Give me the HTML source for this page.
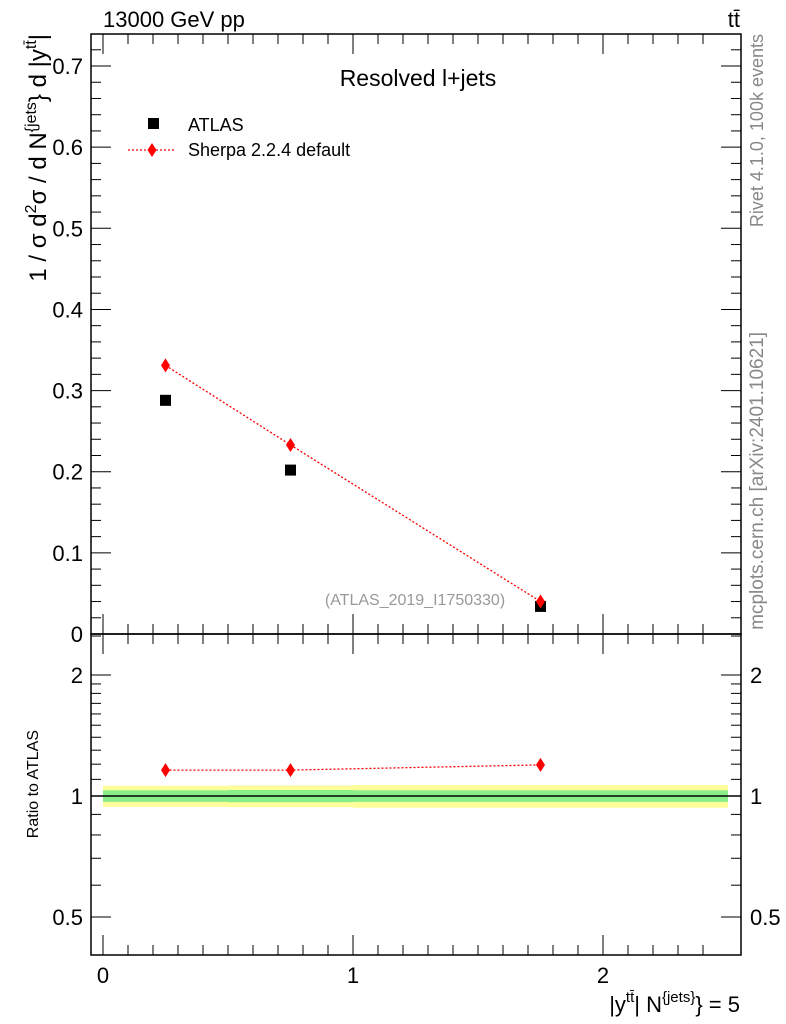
<!DOCTYPE html>
<html><head><meta charset="utf-8"><style>
body{margin:0;background:#fff;}
svg{display:block;font-family:"Liberation Sans",sans-serif;}
</style></head><body>
<svg id="c" width="786" height="1024" xmlns="http://www.w3.org/2000/svg">
<g id="g"></g>
</svg>
<script>
const xCenters=[0.25,0.75,1.75];
const binLo=[0,0.5,1];
const binHi=[0.5,1,2.5];
const atlasVals=[0.288,0.202,0.034];
const sherpaVals=[0.331,0.233,0.040];
const ratioVals=[1.16,1.16,1.195];
const greenErr=[0.033,0.035,0.033];
const yellowErr=[0.06,0.062,0.065];
const mainTicks=[0,0.1,0.2,0.3,0.4,0.5,0.6,0.7];
const mainTickLabels=["0","0.1","0.2","0.3","0.4","0.5","0.6","0.7"];
const ratioTicks=[0.5,1,2];
const ratioTickLabels=["0.5","1","2"];
const xTicks=[0,1,2];
const xTickLabels=["0","1","2"];

const NS="http://www.w3.org/2000/svg";
const g=document.getElementById('g');
const L=91,R=741,T=34,M=634,B=955;
const X=v=>103+v*250;
const Y=v=>634-v*811.4;
const YR=v=>796-Math.log10(v)*402;
function el(t,a,p){const e=document.createElementNS(NS,t);for(const k in a)e.setAttribute(k,a[k]);(p||g).appendChild(e);return e;}
function txt(x,y,s,size,anchor,fill){const e=el('text',{x:x,y:y,'font-size':size,'text-anchor':anchor||'start',fill:fill||'#000'});e.textContent=s;return e;}

// bands
for(let i=0;i<binLo.length;i++){
  const y=el('rect',{x:X(binLo[i]),y:YR(1+yellowErr[i]),width:X(binHi[i])-X(binLo[i]),height:YR(1-yellowErr[i])-YR(1+yellowErr[i]),fill:'#ffff99'});
  
  
  const gr=el('rect',{x:X(binLo[i]),y:YR(1+greenErr[i]),width:X(binHi[i])-X(binLo[i]),height:YR(1-greenErr[i])-YR(1+greenErr[i]),fill:'#88ee88'});
  
  
}
el('line',{x1:L,x2:R,y1:YR(1),y2:YR(1),stroke:'#000','stroke-width':1.5});

// frames
const f1=el('rect',{x:L,y:T,width:R-L,height:M-T,fill:'none',stroke:'#000','stroke-width':1.5});


const f2=el('rect',{x:L,y:M,width:R-L,height:B-M,fill:'none',stroke:'#000','stroke-width':1.5});



// main y ticks
for(let v=0;v<=0.74;v+=0.02){
  const y=Y(v);const major=Math.abs(v*10-Math.round(v*10))<1e-6;const len=major?20:10;
  el('line',{x1:L,x2:L+len,y1:y,y2:y,stroke:'#000'});
  el('line',{x1:R,x2:R-len,y1:y,y2:y,stroke:'#000'});
}
mainTicks.forEach((v,i)=>{const t=txt(83,Y(v)+8,mainTickLabels[i],22,'end');});
// ratio y ticks
[0.5,0.6,0.7,0.8,0.9,1,1.1,1.2,1.3,1.4,1.5,1.6,1.7,1.8,1.9,2,2.5].forEach(v=>{
  const y=YR(v);const major=[0.5,1,2].includes(v);const len=major?20:10;
  el('line',{x1:L,x2:L+len,y1:y,y2:y,stroke:'#000'});
  el('line',{x1:R,x2:R-len,y1:y,y2:y,stroke:'#000'});
});
ratioTicks.forEach((v,i)=>{
  const a=txt(83,YR(v)+8,ratioTickLabels[i],22,'end');
  const b=txt(750,YR(v)+8,ratioTickLabels[i],22,'start');
});
// x ticks
for(let v=0;v<=2.5;v+=0.1){
  const x=X(v);const major=Math.abs(v-Math.round(v))<1e-6;const len=major?20:10;
  [T,M].forEach(y0=>el('line',{x1:x,x2:x,y1:y0,y2:y0+len,stroke:'#000'}));
  [M,B].forEach(y0=>el('line',{x1:x,x2:x,y1:y0,y2:y0-len,stroke:'#000'}));
}
xTicks.forEach((v,i)=>{const t=txt(X(v),983,xTickLabels[i],22,'middle');});

// sherpa lines
const sl=el('polyline',{points:xCenters.map((x,i)=>X(x)+','+Y(sherpaVals[i])).join(' '),fill:'none',stroke:'#f00','stroke-width':1.3,'stroke-dasharray':'2,2'});


const rl=el('polyline',{points:xCenters.map((x,i)=>X(x)+','+YR(ratioVals[i])).join(' '),fill:'none',stroke:'#f00','stroke-width':1.3,'stroke-dasharray':'2,2'});


function diamond(x,y){return el('polygon',{points:`${x},${y-7} ${x+4.5},${y} ${x},${y+7} ${x-4.5},${y}`,fill:'#f00'});}
xCenters.forEach((x,i)=>{
  const a=el('rect',{x:X(x)-5.5,y:Y(atlasVals[i])-5.5,width:11,height:11,fill:'#000'});
  
  
  const d=diamond(X(x),Y(sherpaVals[i]));
  
  
  const r=diamond(X(x),YR(ratioVals[i]));
  
  
});

// legend
const lr=el('rect',{x:148,y:118,width:11,height:11,fill:'#000'});


let t=txt(188,131,'ATLAS',18);
el('line',{x1:128,x2:176,y1:150,y2:150,stroke:'#f00','stroke-dasharray':'2,2','stroke-width':1.3});
diamond(152,150);
t=txt(188,156,'Sherpa 2.2.4 default',18);

t=txt(418,86,'Resolved l+jets',23,'middle');
t=txt(415,605,'(ATLAS_2019_I1750330)',16,'middle','#999');
t=txt(103,27,'13000 GeV pp',22);
t=txt(740,27,'tt̄',22,'end');
t=el('text',{x:740,y:1012,'font-size':22,'text-anchor':'end'});t.innerHTML='|y<tspan font-size="15" dy="-10">tt̄</tspan><tspan dy="10">| N</tspan><tspan font-size="15" dy="-10">{jets}</tspan><tspan dy="10">} = 5</tspan>';

t=el('text',{x:0,y:0,'font-size':24,'text-anchor':'end',transform:'translate(46,34) rotate(-90)'});
t.innerHTML='1 / σ d<tspan font-size="16" dy="-10">2</tspan><tspan dy="10">σ / d N</tspan><tspan font-size="16" dy="-10">{jets</tspan><tspan dy="10">} d |y</tspan><tspan font-size="16" dy="-10">tt̄</tspan><tspan dy="10">|</tspan>';

t=el('text',{x:0,y:0,'font-size':16,'text-anchor':'end',transform:'translate(38,730) rotate(-90)'});t.textContent='Ratio to ATLAS';

t=el('text',{x:0,y:0,'font-size':18,'text-anchor':'end',fill:'#888',transform:'translate(763,34) rotate(-90)'});t.textContent='Rivet 4.1.0,  100k events';

t=el('text',{x:0,y:0,'font-size':19,'text-anchor':'end',fill:'#888',transform:'translate(763,332) rotate(-90)'});t.textContent='mcplots.cern.ch [arXiv:2401.10621]';

</script>
</body></html>
